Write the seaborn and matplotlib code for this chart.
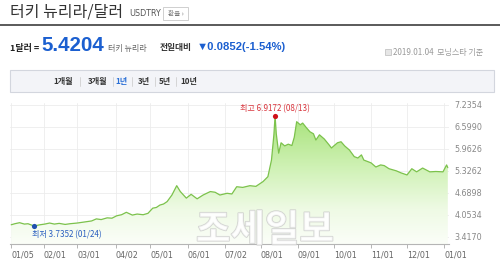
import numpy as np
import pandas as pd
import matplotlib
matplotlib.use("Agg")
import matplotlib.pyplot as plt
import matplotlib.dates as mdates
import matplotlib.patheffects as pe
from matplotlib.patches import Rectangle
from matplotlib.lines import Line2D
from matplotlib.colors import LinearSegmentedColormap
import seaborn as sns

# ---------------- data ----------------
dates = [
    "2018-01-05", "2018-01-08", "2018-01-12", "2018-01-16", "2018-01-19", "2018-01-24",
    "2018-01-29", "2018-02-02", "2018-02-06", "2018-02-10", "2018-02-14", "2018-02-19",
    "2018-02-23", "2018-03-01", "2018-03-05", "2018-03-09", "2018-03-13", "2018-03-17",
    "2018-03-21", "2018-03-26", "2018-03-30", "2018-04-03", "2018-04-07", "2018-04-11",
    "2018-04-16", "2018-04-20", "2018-04-25", "2018-04-29", "2018-05-03", "2018-05-06",
    "2018-05-09", "2018-05-12", "2018-05-15", "2018-05-19", "2018-05-23", "2018-05-26",
    "2018-05-31", "2018-06-04", "2018-06-09", "2018-06-14", "2018-06-20", "2018-06-24",
    "2018-06-28", "2018-07-04", "2018-07-08", "2018-07-12", "2018-07-17", "2018-07-23",
    "2018-07-28", "2018-08-03", "2018-08-07", "2018-08-10", "2018-08-12", "2018-08-13",
    "2018-08-14", "2018-08-16", "2018-08-18", "2018-08-21", "2018-08-24", "2018-08-27",
    "2018-08-29", "2018-08-31", "2018-09-03", "2018-09-05", "2018-09-08", "2018-09-11",
    "2018-09-14", "2018-09-16", "2018-09-19", "2018-09-23", "2018-09-27", "2018-09-29",
    "2018-10-04", "2018-10-07", "2018-10-10", "2018-10-14", "2018-10-18", "2018-10-21",
    "2018-10-24", "2018-10-26", "2018-11-01", "2018-11-05", "2018-11-09", "2018-11-12",
    "2018-11-16", "2018-11-22", "2018-11-26", "2018-12-01", "2018-12-05", "2018-12-09",
    "2018-12-14", "2018-12-20", "2018-12-25", "2018-12-31", "2019-01-03", "2019-01-04",
]
rates = [
    3.77, 3.80, 3.83, 3.79, 3.80, 3.7352,
    3.77, 3.79, 3.82, 3.79, 3.81, 3.78,
    3.80, 3.82, 3.84, 3.86, 3.88, 3.94,
    3.92, 3.97, 3.96, 4.03, 4.06, 4.13,
    4.05, 4.08, 4.06, 4.10, 4.25, 4.27,
    4.34, 4.37, 4.44, 4.63, 4.90, 4.73,
    4.54, 4.65, 4.52, 4.63, 4.73, 4.71,
    4.63, 4.68, 4.66, 4.87, 4.85, 4.90,
    4.88, 5.02, 5.16, 5.64, 6.37, 6.9172,
    6.40, 5.84, 6.14, 6.05, 6.10, 6.06,
    6.30, 6.75, 6.66, 6.71, 6.58, 6.46,
    6.40, 6.22, 6.37, 6.25, 6.08, 5.99,
    6.14, 6.17, 6.05, 5.93, 5.74, 5.70,
    5.79, 5.64, 5.56, 5.44, 5.50, 5.48,
    5.39, 5.33, 5.27, 5.21, 5.39, 5.30,
    5.41, 5.30, 5.31, 5.30, 5.50, 5.42,
]
tick_dates = ["2018-01-05", "2018-02-01", "2018-03-01", "2018-04-02", "2018-05-01",
              "2018-06-01", "2018-07-02", "2018-08-01", "2018-09-01", "2018-10-01",
              "2018-11-01", "2018-12-01", "2019-01-01"]
tick_labels = ["01/05", "02/01", "03/01", "04/02", "05/01", "06/01", "07/02",
               "08/01", "09/01", "10/01", "11/01", "12/01", "01/01"]
y_ticks = [3.4170, 4.0534, 4.6898, 5.3262, 5.9626, 6.5990, 7.2354]
y_tick_labels = ["3.4170", "4.0534", "4.6898", "5.3262", "5.9626", "6.5990", "7.2354"]
period_tabs = ["1개월", "3개월", "1년", "3년", "5년", "10년"]

high_label = "최고 6.9172 (08/13)"
low_label = "최저 3.7352 (01/24)"

# ---------------- figure ----------------
sns.set_theme(style="white")
FONTS = ["Noto Sans CJK KR", "DejaVu Sans"]
plt.rcParams["font.family"] = FONTS

W, H = 500, 261
fig = plt.figure(figsize=(W / 100, H / 100), dpi=100)
fig.patch.set_facecolor("white")


def fx(x):
    return x / W


def fy(y):
    return 1 - y / H


def ftext(x, y, s, **kw):
    kw.setdefault("va", "center")
    kw.setdefault("ha", "left")
    return fig.text(fx(x), fy(y), s, **kw)


# header
ftext(10, 12, "터키 뉴리라/달러", fontsize=11.5, color="#333333")
ftext(129, 14, "USDTRY", fontsize=5.8, color="#555555", family=["DejaVu Sans"])
fig.add_artist(Rectangle((fx(163), fy(20)), 25 / W, 13 / H, transform=fig.transFigure,
                         facecolor="white", edgecolor="#cfcfcf", lw=0.7))
ftext(175.5, 13.5, "환율 ›", fontsize=4.8, color="#777777", ha="center")
fig.add_artist(Line2D([0, 1], [fy(25), fy(25)], transform=fig.transFigure,
                      color="#5a5a5a", lw=1.4))

ftext(10, 48, "1달러 =", fontsize=6.5, color="#222222", fontweight="bold")
ftext(41, 46, "5.4204", fontsize=14.8, color="#1b5fd0", fontweight="bold",
      family=["Liberation Sans"])
ftext(108, 48, "터키 뉴리라", fontsize=5.8, color="#666666")
ftext(160, 47.5, "전일대비", fontsize=6.3, color="#333333", fontweight="bold")
ftext(197, 47.5, "▼0.0852(-1.54%)", fontsize=8.1, color="#1b5fd0", fontweight="bold",
      family=["Liberation Sans", "DejaVu Sans"])
fig.add_artist(Rectangle((fx(385), fy(55)), 6 / W, 6 / H, transform=fig.transFigure,
                         facecolor="#e6e6e6", edgecolor="#bbbbbb", lw=0.5))
ftext(393, 52, "2019.01.04  모닝스타 기준", fontsize=5.8, color="#999999")

# tab bar
fig.add_artist(Rectangle((fx(10), fy(92)), 484 / W, 22 / H, transform=fig.transFigure,
                         facecolor="#f3f4f8", edgecolor="#d3d6de", lw=0.8))
tab_x = [63, 98, 121, 144, 165, 189]
for lab, x in zip(period_tabs, tab_x):
    ftext(x, 81.5, lab, fontsize=5.8, ha="center",
          color="#2a6fd6" if lab == "1년" else "#333333",
          fontweight="bold")
for sx in [80, 113, 132, 155, 176]:
    fig.add_artist(Line2D([fx(sx), fx(sx)], [fy(77), fy(86)], transform=fig.transFigure,
                          color="#d0d0d0", lw=0.6))

# ---------------- chart ----------------
df = pd.DataFrame({"date": pd.to_datetime(dates), "rate": rates})
y0, y1 = 3.214, 7.29
x0 = mdates.date2num(pd.Timestamp("2018-01-04"))
x1 = mdates.date2num(pd.Timestamp("2019-01-05"))

ax = fig.add_axes([fx(10), fy(244), 439 / W, 141 / H])
ax.set_facecolor("white")

# grid
for t in y_ticks:
    ax.axhline(t, color="#ececec", lw=0.6, zorder=0)
for d in tick_dates:
    ax.axvline(mdates.date2num(pd.Timestamp(d)), color="#ececec", lw=0.6, zorder=0)

# gradient fill under the line
xnum = mdates.date2num(df["date"])
poly = ax.fill_between(xnum, df["rate"], y0, color="none", lw=0)
cmap = LinearSegmentedColormap.from_list(
    "g", [(0.0, "#fbfef8"), (0.25, "#eefaE4"), (0.5, "#d4f3bc"), (1.0, "#9edf6c")])
grad = np.linspace(1, 0, 256).reshape(-1, 1)
im = ax.imshow(grad, aspect="auto", cmap=cmap, extent=[x0, x1, y0, y1],
               origin="upper", zorder=1, interpolation="bilinear")
im.set_clip_path(poly.get_paths()[0], transform=ax.transData)

sns.lineplot(data=df, x="date", y="rate", ax=ax, color="#7cc24c", lw=0.9, zorder=3)

# extreme markers
imax = int(np.argmax(rates))
imin = int(np.argmin(rates))
ax.scatter([df["date"][imax]], [rates[imax]], s=14, color="#d0101a", zorder=5, lw=0)
ax.annotate(high_label, xy=(df["date"][imax], rates[imax]), xytext=(0, 5.5),
            textcoords="offset points", ha="center", va="center",
            fontsize=5.8, color="#d9363e", zorder=6)
ax.scatter([df["date"][imin]], [rates[imin]], s=14, color="#1f4fb0", zorder=5, lw=0)
ax.annotate(low_label, xy=(df["date"][imin], rates[imin]), xytext=(-1.5, -6),
            textcoords="offset points", ha="left", va="center",
            fontsize=5.8, color="#2a5fc0", zorder=6)

ax.set_xlim(x0, x1)
ax.set_ylim(y0, y1)
ax.set_xlabel("")
ax.set_ylabel("")

ax.set_xticks([mdates.date2num(pd.Timestamp(d)) for d in tick_dates])
ax.set_xticklabels(tick_labels, fontsize=5.8, color="#666666", family=["DejaVu Sans"])
for lab in ax.get_xticklabels():
    lab.set_horizontalalignment("left")
ax.tick_params(axis="x", length=3, width=0.6, color="#aaaaaa", pad=2, bottom=True)

ax.yaxis.tick_right()
ax.set_yticks(y_ticks)
ax.set_yticklabels(y_tick_labels, fontsize=5.8, color="#888888", family=["DejaVu Sans"])
ax.tick_params(axis="y", length=0, pad=4)

for s in ["top", "left", "right"]:
    ax.spines[s].set_visible(False)
ax.spines["bottom"].set_color("#b5b5b5")
ax.spines["bottom"].set_linewidth(0.8)

# watermark
ftext(265, 230, "조세일보", fontsize=27, ha="center", color="white", alpha=0.75,
      fontweight="bold", zorder=10,
      path_effects=[pe.withStroke(linewidth=1.2, foreground="#c8c8c8")])

fig.savefig("out.png", dpi=100, facecolor="white")
